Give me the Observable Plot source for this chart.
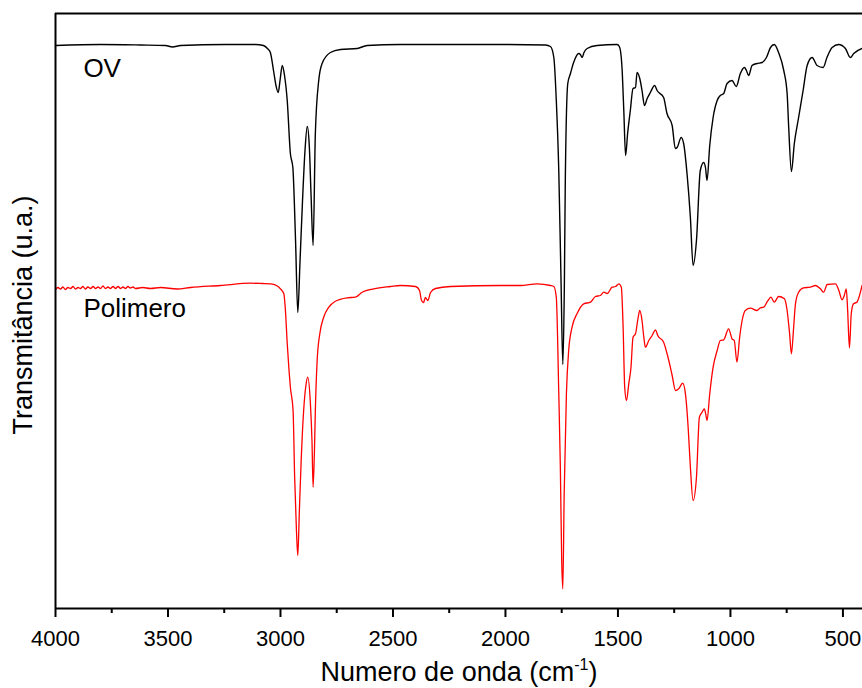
<!DOCTYPE html>
<html><head><meta charset="utf-8">
<script src="https://cdn.jsdelivr.net/npm/d3@7"></script>
<script src="https://cdn.jsdelivr.net/npm/@observablehq/plot@0.6"></script>
<style>body{margin:0;background:#fff}</style>
</head><body><div id="chart"></div>
<script>
// Wavenumber axis (cm-1), reversed
const xDomain = [4000, 413];
// Transmittance, arbitrary units
const yDomain = [0, 595];
const majorTicks = [4000, 3500, 3000, 2500, 2000, 1500, 1000, 500];
const minorTicks = [3750, 3250, 2750, 2250, 1750, 1250, 750];

// OV spectrum
const ovWavenumber = [4000,3800,3622,3511,3480,3444,3245,3111,3076,3058,
 3045,3031,3020,3010,3002,2992,2982,2970,2956,2945,
 2933,2923,2913,2902,2891,2881,2872,2864,2855,2845,
 2830,2815,2778,2733,2659,2615,2467,2022,1822,1800,
 1785,1774,1763,1753,1745,1738,1734,1723,1711,1697,
 1674,1667,1659,1651,1637,1593,1504,1494,1489,1482,
 1474,1466,1457,1445,1433,1422,1415,1403,1393,1382,
 1370,1356,1337,1326,1297,1282,1259,1245,1237,1219,
 1208,1193,1178,1166,1151,1134,1119,1111,1104,1092,
 1077,1059,1045,1030,1015,993,974,956,938,929,
 919,904,882,859,840,822,805,786,763,748,
 741,729,716,697,677,659,637,615,588,571,
 548,519,489,467,452,415];
const ovTransmittance = [563,564,563.5,563,561.5,563,564,564,563,560,
 556,538,523,516,528,543,533,508,455,441,
 368,296,348,408,458,482,463,413,363,475,
 528,545,556,559,560,563,564,564,563.5,562,
 551,508,438,328,244,328,428,525,535,546,
 555,554,551,556,560,563,564,562,558,541,
 498,453,475,498,520,521,536,530,518,503,
 510,516,523,518,511,495,483,460,461,471,
 465,435,391,343,368,438,446,441,428,463,
 491,508,513,515,525,528,522,535,541,538,
 533,543,545,546,551,561,564,556,538,515,
 481,437,465,491,518,543,551,543,541,551,
 561,564,560,551,555,560];

// Polimero spectrum
const polWavenumber = [4000,3989,3978,3967,3956,3945,3933,3922,3911,3900,
 3889,3878,3867,3856,3844,3833,3822,3811,3800,3789,
 3778,3767,3756,3744,3733,3722,3711,3700,3689,3678,
 3667,3656,3644,3613,3578,3533,
 3459,3400,3267,3133,3080,3044,3018,3000,2985,2978,
 2970,2962,2956,2944,2937,2929,2923,2916,2908,2897,
 2887,2879,2867,2860,2855,2849,2845,2837,2825,2808,
 2785,2756,2704,2667,2637,2585,2511,2467,2400,2382,
 2373,2364,2356,2345,2333,2311,2244,2022,1933,1859,
 1800,1785,1774,1763,1756,1750,1745,1739,1729,1719,
 1704,1682,1652,1622,1600,1578,1563,1547,1526,1511,
 1496,1485,1477,1470,1462,1452,1442,1433,1422,1411,
 1403,1393,1385,1378,1363,1348,1333,1323,1297,1274,
 1259,1244,1230,1212,1200,1188,1178,1166,1151,1138,
 1126,1116,1110,1104,1092,1077,1059,1045,1030,1008,
 993,983,971,959,948,934,911,882,867,852,
 835,820,805,786,760,748,737,729,719,711,
 697,675,645,622,600,586,570,533,518,504,
 494,485,479,471,463,453,438,415];
const polTransmittance = [319,321,319.5,321.5,319,321,320,322,319.5,321,
 320,322,319.5,321.5,320,322,320,321.5,320,322.5,
 320,321.5,320,322,320,322,320,321.5,320,322,
 320.5,321.5,320,321,320,321,
 319.5,321,323,325.3,325,324.7,323,319.7,314.7,298,
 265,238,221.3,198,131.3,78,53,98,148,198,
 223,231.3,205,168,121.3,158,198,248,275,291.3,
 301.3,307.3,310.7,311.3,316.3,319.7,322,323,322,318,
 308,306,311,308,316,320,322,323,323,324.7,
 323,322,311.3,215,141.3,48,19.7,115,215,258,
 281.3,294.7,304.7,306.3,312,313,316.3,315,321.3,322,
 324.7,321.3,281.3,221.3,208,224.7,241.3,271.3,274.7,290,
 298,288,271.3,261.3,268,273,278.7,273,266.3,248,
 233,218,219.7,225.3,214.7,181.3,141.3,108,131.3,191.3,
 196.3,199.7,194.7,188,214.7,241.3,258,268,268.7,279.7,
 269.7,268,246.3,271.3,288,298,300.3,298,300.7,301.3,
 307.3,311.3,306.3,312,309.7,298,274.7,254.7,281.3,304.7,
 316.3,320.7,321.3,323,319.7,316.3,324,324.7,318,308.7,
 313,319.7,298,260.7,294.7,304.7,306.3,323];

const seriesNames = ["OV", "Polimero"];
const labelX = [3876, 3876];
const labelY = [540, 300];
const xTitleMain = "Numero de onda (cm";
const xTitleSup = "-1";
const xTitleEnd = ")";
const xTitle = xTitleMain + xTitleSup + xTitleEnd;
const yTitle = "Transmitância (u.a.)";

const ovData = ovWavenumber.map((w, i) => ({wavenumber: w, transmittance: ovTransmittance[i]}));
const polData = polWavenumber.map((w, i) => ({wavenumber: w, transmittance: polTransmittance[i]}));

const chart = Plot.plot({
  width: 862, height: 688,
  marginLeft: 55, marginRight: 0, marginTop: 13, marginBottom: 80,
  style: {fontFamily: "'Liberation Sans', Arial, sans-serif", fontSize: "22px", background: "#fff", color: "#000"},
  x: {domain: xDomain, label: null},
  y: {domain: yDomain, axis: null},
  marks: [
    Plot.line(ovData, {x: "wavenumber", y: "transmittance", stroke: "#000", strokeWidth: 1.4, curve: "monotone-x"}),
    Plot.line(polData, {x: "wavenumber", y: "transmittance", stroke: "#ff0000", strokeWidth: 1.3, curve: "monotone-x"}),
    Plot.ruleY([yDomain[1]], {stroke: "#000", strokeWidth: 2}),
    Plot.ruleY([yDomain[0]], {stroke: "#000", strokeWidth: 2}),
    Plot.ruleX([xDomain[0]], {stroke: "#000", strokeWidth: 2}),
    Plot.axisX({ticks: majorTicks, tickSize: 9, tickPadding: 13, tickFormat: "d", strokeWidth: 2, fontSize: 22, label: null}),
    Plot.axisX({ticks: minorTicks, tickSize: 5, tickFormat: () => "", strokeWidth: 2, label: null}),
    Plot.text(seriesNames, {x: labelX, y: labelY, text: seriesNames, textAnchor: "start", fontSize: 26, fill: "#000"}),
    Plot.text([xTitle], {frameAnchor: "bottom", textAnchor: "middle", dy: 72, fontSize: 27, fill: "#000"}),
    Plot.text([yTitle], {frameAnchor: "left", textAnchor: "middle", rotate: -90, dx: -32, dy: 4, fontSize: 27, fill: "#000"})
  ]
});

d3.select(chart).selectAll("text").filter(function() { return this.textContent === xTitle; }).each(function() {
  const t = d3.select(this);
  t.text("");
  t.append("tspan").text(xTitleMain);
  t.append("tspan").attr("dy", -11).attr("font-size", 16).text(xTitleSup);
  t.append("tspan").attr("dy", 11).text(xTitleEnd);
});

document.getElementById("chart").appendChild(chart);
</script>
</body></html>
